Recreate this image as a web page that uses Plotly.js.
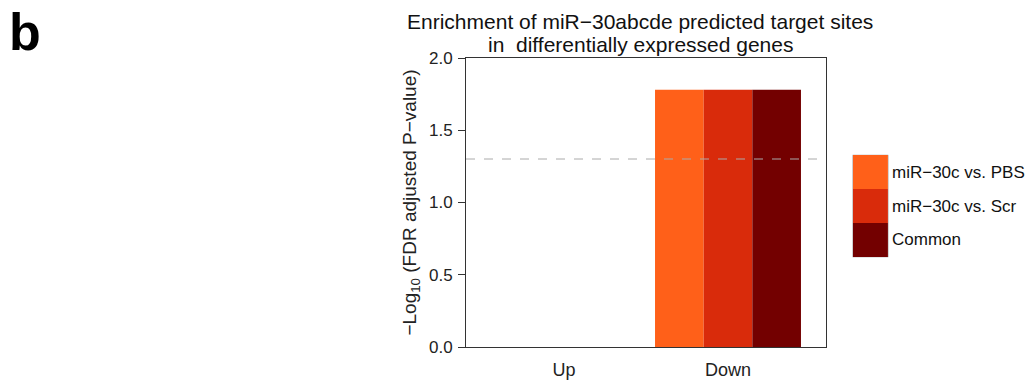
<!DOCTYPE html>
<html>
<head>
<meta charset="utf-8">
<script src="https://cdn.plot.ly/plotly-3.0.1.min.js"></script>
<style>html,body{margin:0;padding:0;background:#fff;}#chart{width:1033px;height:381px;}</style>
</head>
<body>
<div id="chart"></div>
<script>
// ---- data ----
const categories = ["Up", "Down"];
const seriesNames = ["miR\u221230c vs. PBS", "miR\u221230c vs. Scr", "Common"];
const valuesPBS = [0, 1.78];
const valuesScr = [0, 1.78];
const valuesCommon = [0, 1.78];
const threshold = 1.301; // -log10(0.05)
const yTicks = [0, 0.5, 1.0, 1.5, 2.0];
const yTickText = ["0.0", "0.5", "1.0", "1.5", "2.0"];
const titleLines = ["Enrichment of miR\u221230abcde predicted target sites", "in \u00A0differentially expressed genes"];

const colors = ["#FF6019", "#D92B0B", "#730000"];
const seriesValues = [valuesPBS, valuesScr, valuesCommon];
const font = "Liberation Sans, Arial, sans-serif";

const traces = seriesValues.map((vals, i) => ({
  type: "bar",
  x: categories,
  y: vals,
  name: seriesNames[i],
  marker: {color: colors[i], line: {width: 0}},
  showlegend: false,
  hoverinfo: "skip"
}));

// manual legend (large swatches like the R legend)
const legTop = 0.664, legStep = 0.1175;
const shapes = [
  {type: "line", xref: "paper", x0: 0, x1: 1, yref: "y", y0: threshold, y1: threshold,
   line: {color: "#AAAAAA", width: 1, dash: "dash"}},
  {type: "rect", xref: "paper", yref: "paper", x0: 1.074, x1: 1.173,
   y0: legTop - legStep * seriesNames.length, y1: legTop,
   line: {color: "#C8C8C8", width: 1}, fillcolor: "rgba(0,0,0,0)"}
];
const annotations = [];
seriesNames.forEach((n, i) => {
  shapes.push({type: "rect", xref: "paper", yref: "paper",
    x0: 1.075, x1: 1.172, y0: legTop - legStep * (i + 1), y1: legTop - legStep * i,
    fillcolor: colors[i], line: {width: 0}});
  annotations.push({xref: "paper", yref: "paper", x: 1.178, y: legTop - legStep * (i + 0.5),
    xanchor: "left", yanchor: "middle", text: n, showarrow: false,
    font: {family: font, size: 17, color: "#111"}});
});
// title lines
const titleY = [1.128, 1.048];
titleLines.forEach((t, i) => {
  annotations.push({xref: "paper", yref: "paper", x: 0.484, y: titleY[i], xanchor: "center", yanchor: "middle",
    text: t, showarrow: false, font: {family: font, size: 21, color: "#111"}});
});
annotations.push({xref: "paper", yref: "paper", x: -1.225, y: 1.09, xanchor: "center", yanchor: "middle",
  text: "<b>b</b>", showarrow: false, font: {family: font, size: 52, color: "#000"}});

const layout = {
  width: 1033, height: 381,
  margin: {l: 466, r: 207, t: 58, b: 34, pad: 0},
  paper_bgcolor: "#fff", plot_bgcolor: "#fff",
  barmode: "group", bargap: 0.11, bargroupgap: 0,
  xaxis: {type: "category", range: [-0.5976, 1.5976], showgrid: false, zeroline: false,
    showline: true, mirror: true, linecolor: "#333", linewidth: 1, ticks: "",
    tickfont: {family: font, size: 18, color: "#222"}, ticklabelstandoff: 6},
  yaxis: {range: [0, 2], tickvals: yTicks, ticktext: yTickText, showgrid: false, zeroline: false,
    showline: true, mirror: true, linecolor: "#333", linewidth: 1, ticks: "outside", ticklen: 7,
    tickcolor: "#333", tickfont: {family: font, size: 17, color: "#222"}, ticklabelstandoff: 2,
    title: {text: "\u2212Log<sub>10</sub> (FDR adjusted P\u2212value)", standoff: 7,
      font: {family: font, size: 19, color: "#222"}}},
  shapes: shapes,
  annotations: annotations
};

Plotly.newPlot("chart", traces, layout, {staticPlot: true, displayModeBar: false});
</script>
</body>
</html>
